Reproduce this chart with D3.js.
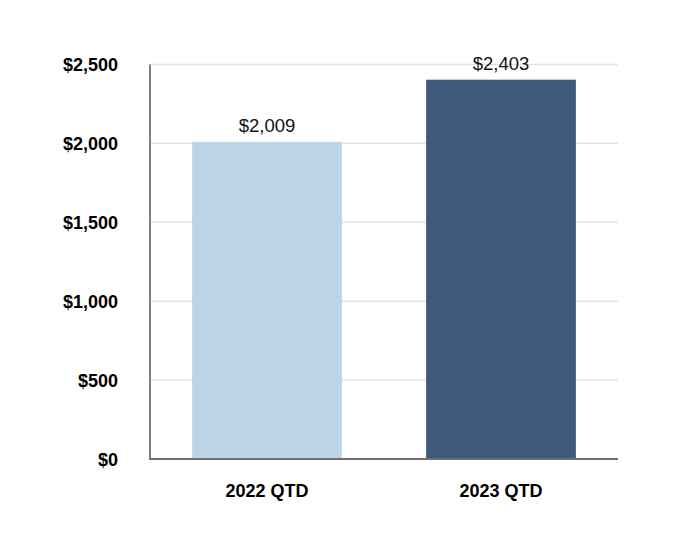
<!DOCTYPE html>
<html><head><meta charset="utf-8">
<script src="https://cdn.jsdelivr.net/npm/d3@7"></script>
<style>body{margin:0;background:#fff}</style>
</head><body>
<script>
const categories = ["2022 QTD", "2023 QTD"];
const values = [2009, 2403];
const colors = ["#bcd6e8", "#3d5a78"];
const yTicks = [0, 500, 1000, 1500, 2000, 2500];

const W = 682, H = 560;
const mLeft = 150, mRight = 618, mTop = 64.4, mBottom = 459;
const svg = d3.select("body").append("svg").attr("width", W).attr("height", H);

const x = d3.scaleBand().domain(categories).range([mLeft, mRight]).paddingInner(0.36).paddingOuter(0.18);
const y = d3.scaleLinear().domain([0, 2500]).range([mBottom, mTop]);

const fmt = v => "$" + d3.format(",")(v);

// gridlines
svg.append("g").selectAll("line").data(yTicks.filter(d => d > 0)).join("line")
  .attr("x1", mLeft).attr("x2", mRight).attr("y1", d => y(d)).attr("y2", d => y(d))
  .attr("stroke", "#e3e3e3").attr("stroke-width", 1.5);

// bars
svg.append("g").selectAll("rect").data(values).join("rect")
  .attr("x", (d, i) => x(categories[i])).attr("width", x.bandwidth())
  .attr("y", d => y(d)).attr("height", d => mBottom - y(d))
  .attr("fill", (d, i) => colors[i]);

// value labels
svg.append("g").selectAll("text").data(values).join("text")
  .attr("x", (d, i) => x(categories[i]) + x.bandwidth() / 2)
  .attr("y", d => y(d) - 10)
  .attr("text-anchor", "middle")
  .attr("font-family", "Liberation Sans, Arial, sans-serif")
  .attr("font-size", 18.5).attr("fill", "#111")
  .text(d => fmt(d));

// y axis
const yAxis = d3.axisLeft(y).tickValues(yTicks).tickFormat(fmt).tickSize(0).tickPadding(32);
const gy = svg.append("g").attr("transform", `translate(${mLeft},0)`).call(yAxis);
gy.select(".domain").remove();
gy.selectAll("text").attr("font-family", "Liberation Sans, Arial, sans-serif")
  .attr("font-size", 18).attr("font-weight", "bold").attr("fill", "#000").attr("dy", "0.35em");

// x axis
const xAxis = d3.axisBottom(x).tickSize(0).tickPadding(25);
const gx = svg.append("g").attr("transform", `translate(0,${mBottom})`).call(xAxis);
gx.select(".domain").remove();
gx.selectAll("text").attr("font-family", "Liberation Sans, Arial, sans-serif")
  .attr("font-size", 18).attr("font-weight", "bold").attr("fill", "#000");

// axis lines
svg.append("line").attr("x1", mLeft).attr("x2", mLeft).attr("y1", mTop).attr("y2", mBottom + 1)
  .attr("stroke", "#7f7f7f").attr("stroke-width", 2);
svg.append("line").attr("x1", mLeft - 1).attr("x2", mRight).attr("y1", mBottom).attr("y2", mBottom)
  .attr("stroke", "#6f6f6f").attr("stroke-width", 2);
</script>
</body></html>
